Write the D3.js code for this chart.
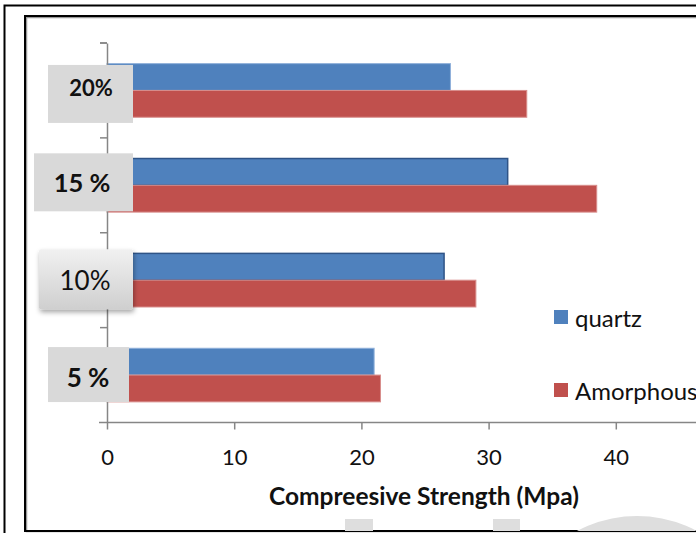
<!DOCTYPE html>
<html>
<head>
<meta charset="utf-8">
<script src="https://cdn.jsdelivr.net/npm/d3@7/dist/d3.min.js"></script>
<style>
  html, body { margin: 0; padding: 0; background: #fff; }
  svg { display: block; }
</style>
</head>
<body>
<svg id="chart" width="696" height="533"></svg>
<script>
// Cement replacement levels (top to bottom on the chart: 20%, 15 %, 10%, 5 %)
const categories = ["5 %", "10%", "15 %", "20%"];
const seriesNames = ["quartz", "Amorphous"];
const quartzValues = [21, 26.5, 31.5, 27];
const amorphousValues = [21.5, 29, 38.5, 33];
const xTickValues = [0, 10, 20, 30, 40];
const axisTitle = "Compreesive Strength (Mpa)";

const colors = { quartz: "#4F81BD", Amorphous: "#C0504D" };
const FONT = "Lato, 'Open Sans', sans-serif";

const svg = d3.select("#chart");
const W = 696, H = 533;

// Page frames
svg.append("rect").attr("x", 4.5).attr("y", 5.5).attr("width", 760).attr("height", 600)
  .attr("fill", "none").attr("stroke", "#000").attr("stroke-width", 2);
svg.append("rect").attr("x", 26.5).attr("y", 17.5).attr("width", 720).attr("height", 514)
  .attr("fill", "none").attr("stroke", "#9a9a9a").attr("stroke-width", 1.5);
svg.append("rect").attr("x", 25).attr("y", 16).attr("width", 720).attr("height", 515)
  .attr("fill", "none").attr("stroke", "#000").attr("stroke-width", 2);

// Faint background marks along the bottom
const wm = svg.append("g").attr("fill", "#dedede");
wm.append("rect").attr("x", 345).attr("y", 519).attr("width", 28).attr("height", 12);
wm.append("rect").attr("x", 493).attr("y", 519).attr("width", 27).attr("height", 12);
svg.append("clipPath").attr("id", "wmclip").append("rect")
  .attr("x", 0).attr("y", 0).attr("width", W).attr("height", 531);
wm.append("circle").attr("cx", 637).attr("cy", 644).attr("r", 128)
  .attr("clip-path", "url(#wmclip)");

// Scales
const x = d3.scaleLinear().domain([0, 50]).range([107, 743]);
const y = d3.scaleBand().domain(categories).range([422.5, 43]).padding(0);
const groupFrac = 0.565;
const ySub = d3.scaleBand().domain(seriesNames)
  .range([0, y.bandwidth() * groupFrac]).padding(0);
const groupOffset = y.bandwidth() * (1 - groupFrac) / 2;

// Bars
const rows = categories.map((c, i) => ({
  cat: c,
  values: [
    { series: "quartz", value: quartzValues[i] },
    { series: "Amorphous", value: amorphousValues[i] }
  ]
}));
const darkOutline = new Set(["15 %", "10%"]);

const groups = svg.append("g").selectAll("g").data(rows).join("g")
  .attr("transform", d => `translate(0,${y(d.cat) + groupOffset})`);
groups.selectAll("rect").data(d => d.values.map(v => ({ ...v, cat: d.cat }))).join("rect")
  .attr("x", x(0))
  .attr("y", d => ySub(d.series))
  .attr("width", d => x(d.value) - x(0))
  .attr("height", ySub.bandwidth())
  .attr("fill", d => colors[d.series])
  .attr("stroke", d => d.series === "quartz"
    ? (darkOutline.has(d.cat) ? "#2f5487" : "#8fb0da")
    : "#d88e8c")
  .attr("stroke-width", d => d.series === "quartz" && darkOutline.has(d.cat) ? 1.5 : 1);

// Axes
const axisColor = "#868686";
const yAxis = svg.append("g").attr("transform", `translate(${x(0)},0)`)
  .call(d3.axisLeft(y).tickValues([]).tickSizeOuter(0));
yAxis.select(".domain").attr("stroke", axisColor).attr("stroke-width", 1.5);
// category boundary ticks
svg.append("g").selectAll("line")
  .data(categories.map(c => y(c)).concat([y.range()[1]]))
  .join("line")
  .attr("x1", x(0) - 7).attr("x2", x(0))
  .attr("y1", d => d).attr("y2", d => d)
  .attr("stroke", axisColor).attr("stroke-width", 1.5);

const xAxis = svg.append("g").attr("transform", `translate(0,${y.range()[0]})`)
  .call(d3.axisBottom(x).tickValues(xTickValues).tickSize(7).tickSizeOuter(0).tickPadding(20));
xAxis.select(".domain").attr("stroke", axisColor).attr("stroke-width", 1.5)
  .attr("d", `M${x(0) - 8},0H${x(50)}`);
xAxis.selectAll(".tick line").attr("stroke", axisColor).attr("stroke-width", 1.5);
xAxis.selectAll(".tick text").attr("font-family", FONT).attr("font-size", 22)
  .attr("fill", "#111");

svg.append("text").attr("x", 424).attr("y", 505).attr("text-anchor", "middle")
  .attr("font-family", FONT).attr("font-size", 24.5).attr("font-weight", "bold")
  .attr("fill", "#111").text(axisTitle);

// Category label boxes drawn over the axis
const defs = svg.append("defs");
const grad = defs.append("linearGradient").attr("id", "boxGrad")
  .attr("x1", 0).attr("y1", 0).attr("x2", 0).attr("y2", 1);
grad.append("stop").attr("offset", "0%").attr("stop-color", "#f1f1f1");
grad.append("stop").attr("offset", "100%").attr("stop-color", "#cfcfcf");
const shadow = defs.append("filter").attr("id", "boxShadow")
  .attr("x", "-20%").attr("y", "-20%").attr("width", "150%").attr("height", "160%");
shadow.append("feDropShadow").attr("dx", 1).attr("dy", 3).attr("stdDeviation", 2.5)
  .attr("flood-color", "#000").attr("flood-opacity", 0.35);

const labelBoxes = {
  "20%":  { left: 48, right: 133, top: -25.5, bottom: 32.5, tx: 91, ty: -3, size: 22, weight: "bold", fancy: false },
  "15 %": { left: 34, right: 133, top: -32, bottom: 26, tx: 82, ty: -3, size: 25.5, weight: "bold", fancy: false },
  "10%":  { left: 39, right: 133, top: -31, bottom: 29, tx: 85, ty: 0, size: 26, weight: "normal", fancy: true },
  "5 %":  { left: 48, right: 129, top: -28, bottom: 27, tx: 88, ty: 2, size: 26, weight: "bold", fancy: false }
};
const labels = svg.append("g").selectAll("g").data(categories).join("g");
labels.each(function(c) {
  const s = labelBoxes[c];
  const cy = y(c) + y.bandwidth() / 2;
  const g = d3.select(this);
  g.append("rect")
    .attr("x", s.left).attr("y", cy + s.top)
    .attr("width", s.right - s.left).attr("height", s.bottom - s.top)
    .attr("rx", s.fancy ? 2 : 0)
    .attr("fill", s.fancy ? "url(#boxGrad)" : "#d9d9d9")
    .attr("filter", s.fancy ? "url(#boxShadow)" : null);
  g.append("text")
    .attr("x", s.tx).attr("y", cy + s.ty)
    .attr("text-anchor", "middle").attr("dominant-baseline", "central")
    .attr("font-family", FONT).attr("font-size", s.size).attr("font-weight", s.weight)
    .attr("fill", "#111").text(c);
});

// Legend
const legend = svg.append("g").selectAll("g").data(seriesNames).join("g")
  .attr("transform", (d, i) => `translate(554,${310 + i * 73})`);
legend.append("rect").attr("width", 14).attr("height", 14)
  .attr("fill", d => colors[d]);
legend.append("text").attr("x", 21).attr("y", 7)
  .attr("dominant-baseline", "central")
  .attr("font-family", FONT).attr("font-size", 24).attr("fill", "#111")
  .text(d => d);
</script>
</body>
</html>
